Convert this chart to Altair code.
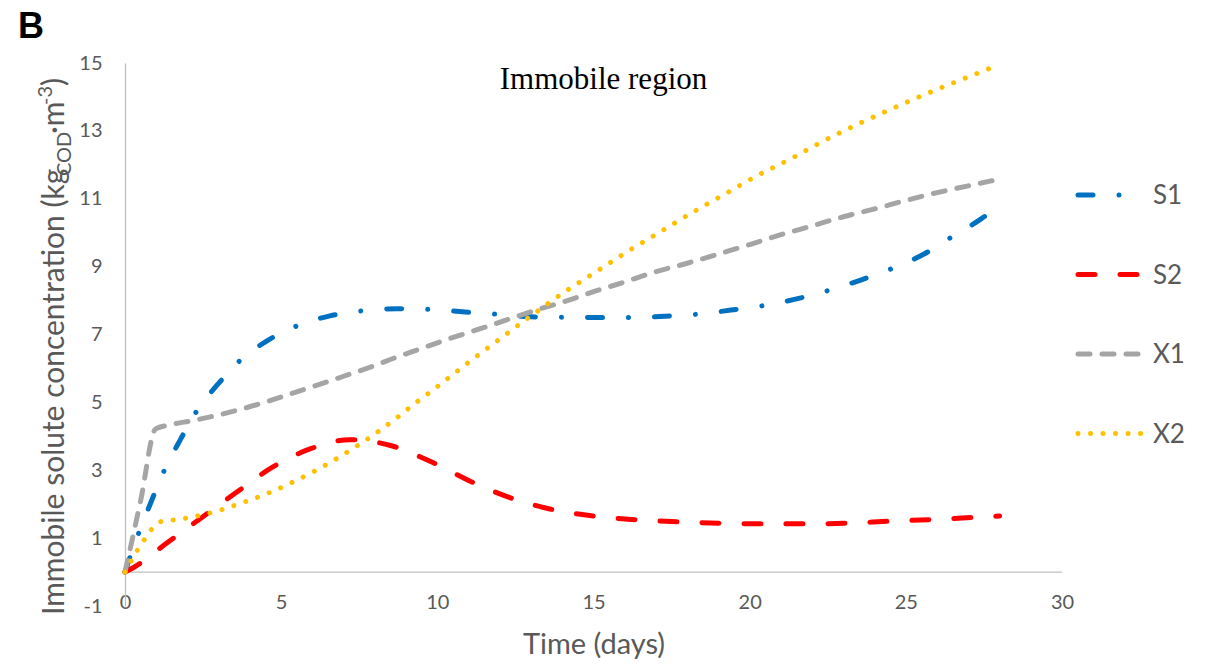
import altair as alt
import pandas as pd

# ---------------- data ----------------
series_names = ["S1", "S2", "X1", "X2"]
series_colors = ["#0070C0", "#FF0000", "#A5A5A5", "#FFC000"]

t_S1 = [0, 0.18, 0.46, 0.85, 1.26, 1.76, 2.3, 2.96, 3.7, 4.56, 5.55, 6.56, 7.6, 8.7,
        9.77, 10.8, 11.9, 13.0, 14.1, 15.2, 16.2, 17.3, 18.35, 19.4, 20.5, 21.5,
        22.6, 23.6, 24.6, 25.6, 26.5, 27.4, 28.0]
v_S1 = [0, 0.5, 1.2, 2.1, 3.0, 3.88, 4.75, 5.52, 6.25, 6.82, 7.27, 7.55, 7.7, 7.76,
        7.74, 7.67, 7.6, 7.52, 7.51, 7.5, 7.5, 7.54, 7.6, 7.72, 7.86, 8.05,
        8.32, 8.62, 8.96, 9.38, 9.89, 10.4, 10.8]

t_S2 = [0, 0.3, 1.36, 2.42, 3.57, 4.67, 5.9, 7.2, 8.5, 9.8, 11.0, 12.3, 13.6, 15.0,
        16.4, 17.7, 19.0, 20.5, 21.8, 23.1, 24.5, 25.9, 27.2, 28.0]
v_S2 = [0, 0.15, 0.87, 1.58, 2.35, 3.06, 3.62, 3.9, 3.73, 3.25, 2.7, 2.2, 1.86, 1.65,
        1.54, 1.48, 1.44, 1.42, 1.42, 1.44, 1.5, 1.55, 1.61, 1.65]

t_X1 = [0, 0.5, 0.98, 1.4, 2.2, 3.0, 3.8, 4.6, 5.4, 6.2, 7.0, 7.8, 8.6, 9.4, 10.2,
        11.0, 11.8, 12.6, 13.3, 14.0, 15.0, 16.0, 17.0, 18.0, 19.0, 20.0, 21.0,
        22.0, 23.0, 24.0, 25.0, 26.0, 27.0, 28.0]
v_X1 = [0, 2.1, 4.22, 4.33, 4.47, 4.63, 4.82, 5.04, 5.28, 5.52, 5.77, 6.02, 6.3, 6.56,
        6.82, 7.06, 7.3, 7.55, 7.76, 7.95, 8.26, 8.55, 8.85, 9.1, 9.37, 9.65, 9.94,
        10.2, 10.47, 10.7, 10.95, 11.18, 11.38, 11.58]

t_X2 = [0, 0.2, 0.4, 0.62, 0.85, 1.12, 1.5, 1.9, 2.3, 3.06, 3.84, 4.57, 5.3, 6.0,
        6.7, 7.4, 8.03, 8.68, 9.3, 9.94, 10.58, 11.2, 11.84, 13.0, 14.1, 15.1, 16.1,
        17.13, 18.14, 19.17, 20.2, 21.3, 22.34, 23.4, 24.5, 25.6, 26.7, 27.8, 28.0]
v_X2 = [0, 0.33, 0.65, 0.96, 1.26, 1.48, 1.53, 1.58, 1.65, 1.83, 2.07, 2.32, 2.62, 2.94,
        3.3, 3.7, 4.09, 4.53, 4.98, 5.42, 5.88, 6.32, 6.76, 7.55, 8.27, 8.86, 9.45,
        10.02, 10.58, 11.12, 11.66, 12.17, 12.69, 13.17, 13.63, 14.07, 14.48, 14.88, 14.95]

x_ticks = [0, 5, 10, 15, 20, 25, 30]
y_ticks = [-1, 1, 3, 5, 7, 9, 11, 13, 15]
x_domain = [0, 30]
y_domain = [-1, 15]

panel_label = "B"
chart_title = "Immobile region"
x_title = "Time (days)"
y_title_parts = ["Immobile solute concentration (kg", "COD", "\u00b7m", "-3", ")"]

# ---------------- build table ----------------
rows = []
for name, ts, vs in zip(series_names, [t_S1, t_S2, t_X1, t_X2], [v_S1, v_S2, v_X1, v_X2]):
    for t, v in zip(ts, vs):
        rows.append({"series": name, "t": t, "v": v})
df = pd.DataFrame(rows)

# ---------------- styles ----------------
AXIS_GREY = "#BFBFBF"
TEXT_GREY = "#595959"
FONT = "Lato"
LINE_W = 5
dash_range = [[15, 26, 0.01, 26], [17, 25], [12, 12], [0.01, 12.5]]

W, H = 937, 543

color_enc = alt.Color("series:N", scale=alt.Scale(domain=series_names, range=series_colors), legend=None)
dash_enc = alt.StrokeDash("series:N", scale=alt.Scale(domain=series_names, range=dash_range), legend=None)

x_enc = alt.X(
    "t:Q",
    scale=alt.Scale(domain=x_domain, nice=False, zero=False),
    axis=alt.Axis(values=x_ticks, domain=False, ticks=False, grid=False,
                  labelFont=FONT, labelFontSize=20, labelColor=TEXT_GREY,
                  labelPadding=-4, labelBaseline="middle", labelFlush=False,
                  labelExpr="'' + datum.value",
                  title=x_title, titleFont=FONT, titleFontSize=29, titleFontWeight="normal",
                  titleColor=TEXT_GREY, titlePadding=18),
)
y_enc = alt.Y(
    "v:Q",
    scale=alt.Scale(domain=y_domain, nice=False, zero=False),
    axis=alt.Axis(values=y_ticks, ticks=False, grid=False, domainColor=AXIS_GREY, domainWidth=1.3,
                  labelFont=FONT, labelFontSize=20, labelColor=TEXT_GREY, labelPadding=23,
                  labelFlush=False, labelExpr="'' + datum.value",
                  title=None),
)

axis_line = alt.Chart(pd.DataFrame({"a": [0]})).mark_rule(color=AXIS_GREY, strokeWidth=1.3).encode(
    x=alt.datum(x_domain[0]), x2=alt.datum(x_domain[1]), y=alt.datum(0)
)

lines = alt.Chart(df).mark_line(strokeWidth=LINE_W, strokeCap="round", strokeJoin="round",
                                interpolate="monotone").encode(
    x=x_enc, y=y_enc, color=color_enc, strokeDash=dash_enc, order="t:Q"
)

layers = [axis_line, lines]

# legend (manual, to keep round-capped dash patterns)
leg_top, leg_step = 132, 79.5
for i, name in enumerate(series_names):
    ldf = pd.DataFrame({"series": [name]})
    ly = leg_top + i * leg_step
    layers.append(alt.Chart(ldf).mark_rule(strokeWidth=LINE_W, strokeCap="round").encode(
        x=alt.value(953), x2=alt.value(1020), y=alt.value(ly), color=color_enc, strokeDash=dash_enc))
    layers.append(alt.Chart(ldf).mark_text(align="left", baseline="middle", font=FONT, fontSize=26,
                                           color=TEXT_GREY).encode(
        x=alt.value(1028), y=alt.value(ly + 1), text="series:N"))

def label(text, x, y, **kw):
    return alt.Chart(pd.DataFrame({"label": [text]})).mark_text(**kw).encode(
        x=alt.value(x), y=alt.value(y), text="label:N")

layers.append(label(panel_label, -107, -25, align="left", baseline="alphabetic",
                    font="Liberation Sans", fontSize=36, fontWeight="bold", color="black"))
layers.append(label(chart_title, 478.5, 26, align="center", baseline="alphabetic",
                    font="Liberation Serif", fontSize=31, color="black"))

# rotated y title pieces (main / subscript / superscript)
rot = dict(angle=270, align="left", baseline="alphabetic", font=FONT, color=TEXT_GREY)
layers.append(label(y_title_parts[0], -61, 552, fontSize=30, **rot))
layers.append(label(y_title_parts[1], -54, 113, fontSize=20, **rot))
layers.append(label(y_title_parts[2], -61, 71, fontSize=30, **rot))
layers.append(label(y_title_parts[3], -73, 42, fontSize=20, **rot))
layers.append(label(y_title_parts[4], -61, 23, fontSize=30, **rot))

chart = alt.layer(*layers).properties(
    width=W, height=H,
    autosize=alt.AutoSizeParams(type="none"),
    padding={"left": 125, "top": 63, "right": 154, "bottom": 61},
    background="white",
).configure_view(stroke=None)

chart.save("out.html", embed_options={"renderer": "svg", "actions": False})
